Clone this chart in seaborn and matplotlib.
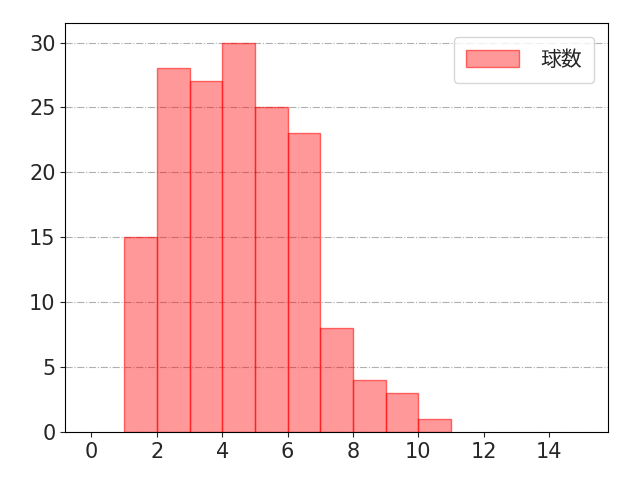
import matplotlib
matplotlib.use("Agg")
import matplotlib.pyplot as plt
import seaborn as sns
import numpy as np

sns.set_style("ticks")
plt.rcParams['font.family'] = ['DejaVu Sans', 'Noto Sans CJK JP']
plt.rcParams['font.size'] = 15

bin_edges = [1, 2, 3, 4, 5, 6, 7, 8, 9, 10, 11]
counts = [15, 28, 27, 30, 25, 23, 8, 4, 3, 1]
label = "球数"
xticks = [0, 2, 4, 6, 8, 10, 12, 14]

fig, ax = plt.subplots(figsize=(6.4, 4.8), dpi=100)
ax.grid(axis='y', linestyle='-.', color='#b0b0b0', linewidth=0.8)
ax.set_axisbelow(True)
sns.histplot(x=bin_edges[:-1], weights=counts, bins=bin_edges, ax=ax,
             facecolor=(1, 0, 0, 0.4), edgecolor=(1, 0, 0, 0.55), linewidth=1,
             label=label)
ax.set_xlim(-0.8, 15.8)
ax.set_ylim(0, 31.5)
ax.set_xticks(xticks)
ax.set_xlabel("")
ax.set_ylabel("")
ax.tick_params(labelsize=15)
ax.legend(loc='upper right', handlelength=2.55, handleheight=0.92, handletextpad=1.05,
          borderpad=0.58, borderaxespad=0.65,
          prop={'family': ['Noto Sans CJK JP', 'DejaVu Sans'], 'size': 15})
for s in ax.spines.values():
    s.set_visible(True)
    s.set_color('black')
fig.subplots_adjust(left=0.102, right=0.95, top=0.952, bottom=0.1)
fig.savefig("out.png", dpi=100)
